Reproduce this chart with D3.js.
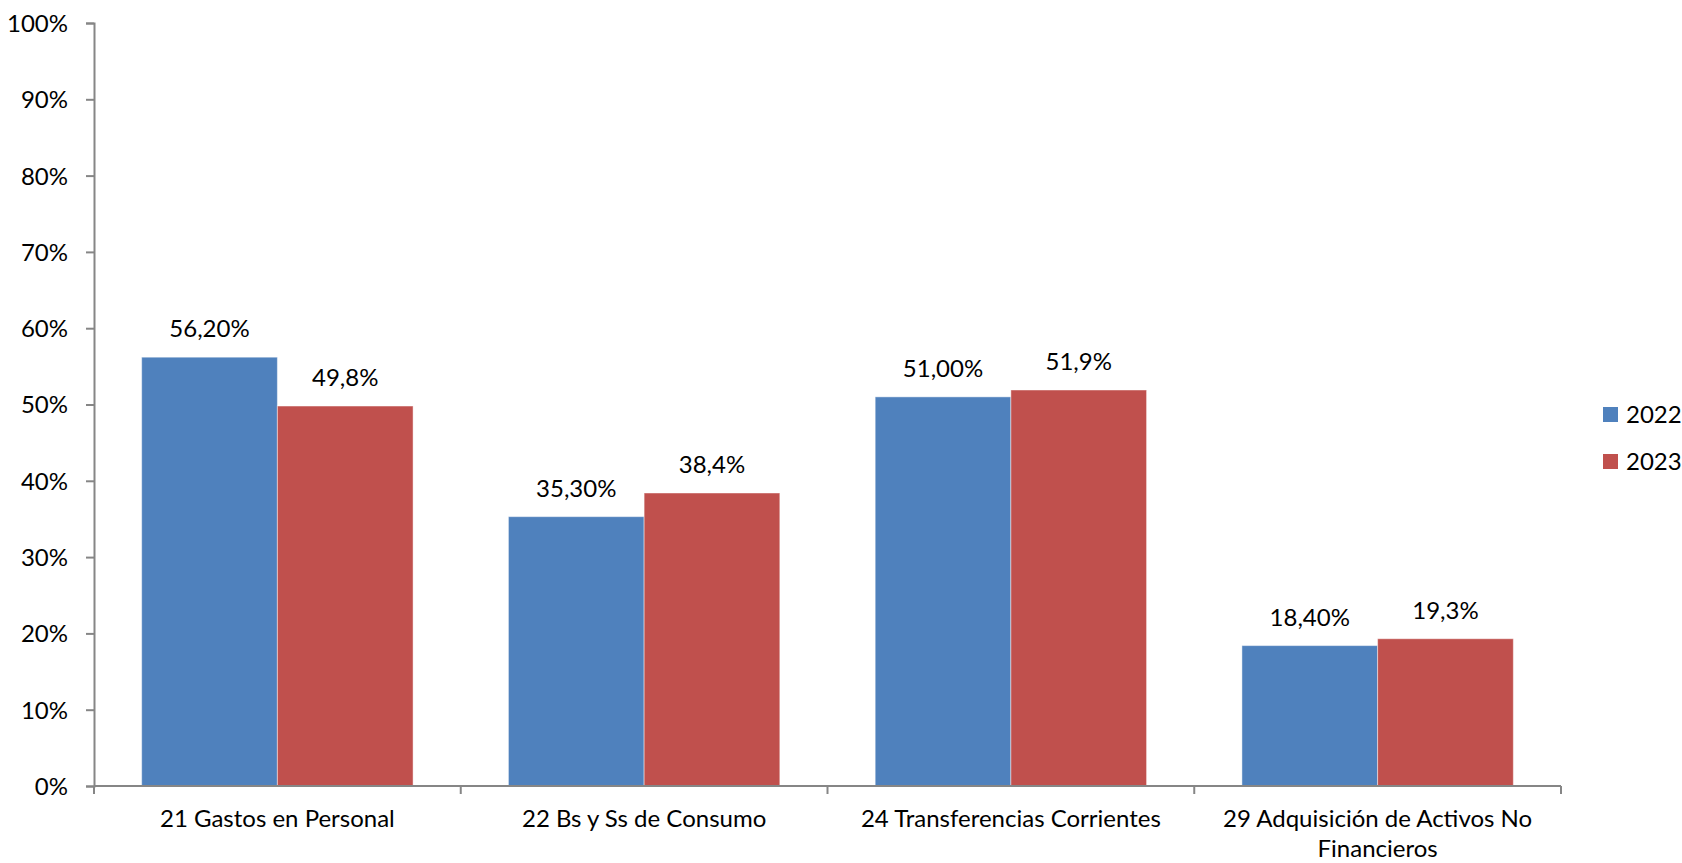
<!DOCTYPE html>
<html>
<head>
<meta charset="utf-8">
<script src="https://cdn.jsdelivr.net/npm/d3@7"></script>
<style>
  body { margin: 0; background: #fff; }
  text { font-family: Lato, "Open Sans", sans-serif; fill: #000; }
</style>
</head>
<body>
<script>
// data
var categories = ["21 Gastos en Personal", "22 Bs y Ss de Consumo", "24 Transferencias Corrientes", "29 Adquisición de Activos No Financieros"];
var seriesNames = ["2022", "2023"];
var values2022 = [56.2, 35.3, 51.0, 18.4];
var values2023 = [49.8, 38.4, 51.9, 19.3];
var yTicks = [0, 10, 20, 30, 40, 50, 60, 70, 80, 90, 100];

var colors = ["#4F81BD", "#C0504D"];
var width = 1682, height = 863;
var margin = {top: 23, right: 121, bottom: 77, left: 94};

var es = d3.formatLocale({decimal: ",", thousands: ".", grouping: [3], currency: ["", ""]});
var labelFormats = [es.format(".2f"), es.format(".1f")];

var svg = d3.select("body").append("svg")
            .attr("width", width)
            .attr("height", height);

var x0 = d3.scaleBand()
           .domain(categories)
           .range([margin.left, width - margin.right])
           .paddingInner(0.26)
           .paddingOuter(0.13);

var x1 = d3.scaleBand()
           .domain(seriesNames)
           .range([0, x0.bandwidth()]);

var y = d3.scaleLinear()
          .domain([0, 100])
          .range([height - margin.bottom, margin.top]);

// bars
var rows = categories.map(function (c, i) {
  return {cat: c, vals: [values2022[i], values2023[i]]};
});

var groups = svg.selectAll("g.cat").data(rows).enter().append("g")
                .attr("class", "cat")
                .attr("transform", function (d) { return "translate(" + x0(d.cat) + ",0)"; });

groups.selectAll("rect").data(function (d) { return d.vals; }).enter().append("rect")
      .attr("x", function (d, i) { return x1(seriesNames[i]); })
      .attr("y", function (d) { return y(d); })
      .attr("width", x1.bandwidth())
      .attr("height", function (d) { return y(0) - y(d); })
      .style("fill", function (d, i) { return colors[i]; })
      .style("stroke", "rgba(255,255,255,0.45)")
      .style("stroke-width", 1);

groups.selectAll("text.val").data(function (d) { return d.vals; }).enter().append("text")
      .attr("class", "val")
      .attr("x", function (d, i) { return x1(seriesNames[i]) + x1.bandwidth() / 2; })
      .attr("y", function (d) { return y(d) - 20; })
      .attr("text-anchor", "middle")
      .style("font-size", "24px")
      .text(function (d, i) { return labelFormats[i](d) + "%"; });

// y axis
var yAxis = svg.append("g")
               .attr("transform", "translate(" + margin.left + ",0)")
               .call(d3.axisLeft(y).tickValues(yTicks).tickSize(8).tickPadding(18)
                       .tickFormat(function (d) { return d + "%"; }));
yAxis.select(".domain").attr("stroke", "#868686").attr("stroke-width", 2);
yAxis.selectAll(".tick line").attr("stroke", "#868686").attr("stroke-width", 2);
yAxis.selectAll(".tick text").style("font-size", "24px").attr("font-family", null).attr("dy", "0.35em");

// x axis with ticks at category boundaries
var step = x0.step();
var boundaries = d3.range(categories.length + 1).map(function (i) { return margin.left + i * step; });
var xAxisG = svg.append("g").attr("class", "xaxis");
xAxisG.append("line")
      .attr("x1", margin.left).attr("x2", width - margin.right)
      .attr("y1", y(0)).attr("y2", y(0))
      .attr("stroke", "#868686").attr("stroke-width", 2);
xAxisG.selectAll("line.tk").data(boundaries).enter().append("line")
      .attr("class", "tk")
      .attr("x1", function (d) { return d; }).attr("x2", function (d) { return d; })
      .attr("y1", y(0)).attr("y2", y(0) + 8)
      .attr("stroke", "#868686").attr("stroke-width", 2);

// category labels, wrapped to the band step
var catText = xAxisG.selectAll("text.catlabel").data(categories).enter().append("text")
      .attr("class", "catlabel")
      .attr("text-anchor", "middle")
      .attr("x", function (d) { return x0(d) + x0.bandwidth() / 2; })
      .attr("y", y(0) + 41)
      .style("font-size", "24px");

catText.each(function (d) {
  var t = d3.select(this), words = d.split(" "), line = [];
  var tspan = t.append("tspan").attr("x", t.attr("x")).attr("dy", 0);
  words.forEach(function (w) {
    line.push(w);
    tspan.text(line.join(" "));
    if (tspan.node().getComputedTextLength() > step - 30 && line.length > 1) {
      line.pop();
      tspan.text(line.join(" "));
      line = [w];
      tspan = t.append("tspan").attr("x", t.attr("x")).attr("dy", "30px").text(w);
    }
  });
});

// legend
var legend = svg.selectAll("g.legend").data(seriesNames).enter().append("g")
                .attr("class", "legend")
                .attr("transform", function (d, i) { return "translate(1603," + (407 + i * 47) + ")"; });
legend.append("rect")
      .attr("width", 15).attr("height", 15)
      .style("fill", function (d, i) { return colors[i]; });
legend.append("text")
      .attr("x", 23).attr("y", 7.5).attr("dy", "0.35em")
      .style("font-size", "24px")
      .text(function (d) { return d; });
</script>
</body>
</html>
